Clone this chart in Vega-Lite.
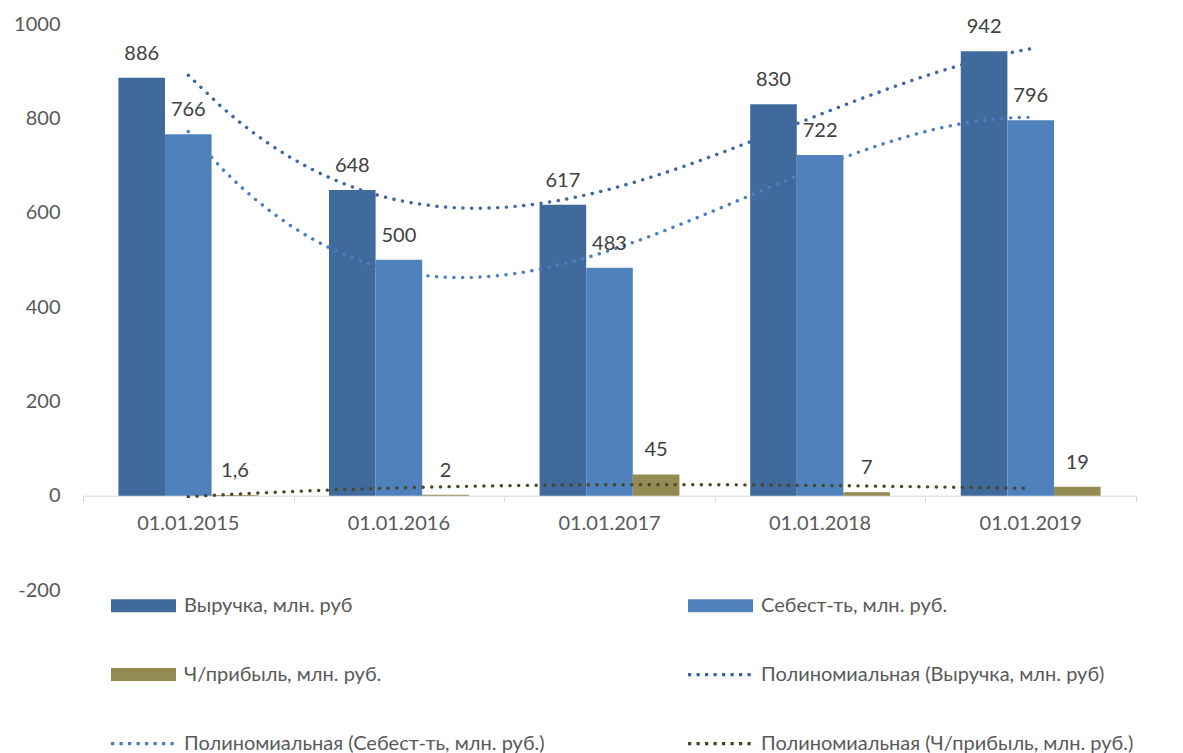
{
  "$schema": "https://vega.github.io/schema/vega-lite/v6.json",
  "width": 1053,
  "height": 566,
  "autosize": {"type": "none"},
  "padding": {"left": 83, "top": 24, "right": 47, "bottom": 163},
  "background": "white",
  "config": {
    "view": {"stroke": null},
    "font": "Lato",
    "locale": {"number": {"decimal": ",", "thousands": " ", "grouping": [3], "currency": ["", ""], "minus": "-"}}
  },
  "data": {
    "values": [
      {"date": "01.01.2015", "idx": 1, "series": "Выручка, млн. руб", "value": 886},
      {"date": "01.01.2015", "idx": 1, "series": "Себест-ть, млн. руб.", "value": 766},
      {"date": "01.01.2015", "idx": 1, "series": "Ч/прибыль, млн. руб.", "value": 1.6},
      {"date": "01.01.2016", "idx": 2, "series": "Выручка, млн. руб", "value": 648},
      {"date": "01.01.2016", "idx": 2, "series": "Себест-ть, млн. руб.", "value": 500},
      {"date": "01.01.2016", "idx": 2, "series": "Ч/прибыль, млн. руб.", "value": 2},
      {"date": "01.01.2017", "idx": 3, "series": "Выручка, млн. руб", "value": 617},
      {"date": "01.01.2017", "idx": 3, "series": "Себест-ть, млн. руб.", "value": 483},
      {"date": "01.01.2017", "idx": 3, "series": "Ч/прибыль, млн. руб.", "value": 45},
      {"date": "01.01.2018", "idx": 4, "series": "Выручка, млн. руб", "value": 830},
      {"date": "01.01.2018", "idx": 4, "series": "Себест-ть, млн. руб.", "value": 722},
      {"date": "01.01.2018", "idx": 4, "series": "Ч/прибыль, млн. руб.", "value": 7},
      {"date": "01.01.2019", "idx": 5, "series": "Выручка, млн. руб", "value": 942},
      {"date": "01.01.2019", "idx": 5, "series": "Себест-ть, млн. руб.", "value": 796},
      {"date": "01.01.2019", "idx": 5, "series": "Ч/прибыль, млн. руб.", "value": 19}
    ]
  },
  "encoding": {
    "y": {
      "field": "value",
      "type": "quantitative",
      "scale": {"domain": [-200, 1000], "nice": false, "zero": false},
      "axis": {
        "values": [-200, 0, 200, 400, 600, 800, 1000],
        "format": "d",
        "domain": false,
        "ticks": false,
        "grid": false,
        "labelPadding": 23,
        "labelFont": "Lato",
        "labelFontSize": 20,
        "labelColor": "#595959",
        "title": null
      }
    }
  },
  "layer": [
    {
      "transform": [
        {"filter": {"field": "series", "equal": "Выручка, млн. руб"}},
        {"regression": "value", "on": "idx", "method": "poly", "order": 3}
      ],
      "mark": {"type": "line", "color": "#3B66A3", "strokeWidth": 3.4, "strokeDash": [0.1, 8.6], "strokeCap": "round"},
      "encoding": {
        "x": {
          "field": "idx",
          "type": "quantitative",
          "scale": {"domain": [0.5, 5.5], "nice": false, "zero": false},
          "axis": {
            "orient": "bottom",
            "values": [0.5, 1.5, 2.5, 3.5, 4.5, 5.5],
            "labels": false,
            "grid": false,
            "domainColor": "#D9D9D9",
            "tickColor": "#D9D9D9",
            "tickSize": 6,
            "offset": -94.33,
            "title": null
          }
        }
      }
    },
    {
      "transform": [{"filter": {"field": "series", "equal": "Выручка, млн. руб"}}],
      "mark": {"type": "bar"},
      "encoding": {
        "x": {
          "field": "date",
          "type": "nominal",
          "scale": {"paddingInner": 0.336, "paddingOuter": 0.168},
          "axis": {
            "orient": "bottom",
            "domain": false,
            "ticks": false,
            "labelAngle": 0,
            "labelPadding": 18,
            "labelFont": "Lato",
            "labelFontSize": 20,
            "labelColor": "#595959",
            "offset": -94.33,
            "title": null
          }
        },
        "xOffset": {
          "field": "series",
          "type": "nominal",
          "scale": {"domain": ["Выручка, млн. руб", "Себест-ть, млн. руб.", "Ч/прибыль, млн. руб."], "paddingInner": 0, "paddingOuter": 0}
        },
        "color": {
          "field": "series",
          "type": "nominal",
          "scale": {
            "domain": ["Выручка, млн. руб", "Себест-ть, млн. руб.", "Ч/прибыль, млн. руб.", "Полиномиальная (Выручка, млн. руб)", "Полиномиальная (Себест-ть, млн. руб.)", "Полиномиальная (Ч/прибыль, млн. руб.)"],
            "range": ["#406A9C", "#4F81BD", "#948A54", "#3B66A3", "#4A7EC1", "#4B4527"]
          },
          "legend": {
            "title": null,
            "orient": "none",
            "direction": "horizontal",
            "legendX": 28,
            "legendY": 549,
            "columns": 2,
            "gridAlign": "each",
            "columnPadding": 143,
            "rowPadding": 26,
            "padding": 0,
            "symbolSize": 4225,
            "symbolStrokeWidth": 0,
            "labelOffset": 8,
            "labelFont": "Lato",
            "labelFontSize": 20,
            "labelColor": "#595959",
            "labelLimit": 700,
            "encode": {
              "symbols": {
                "update": {
                  "shape": [
                    {"test": "indexof(datum.value, 'Полином') === 0", "value": "M-1,-0.05h0.1v0.1h-0.1zM-0.7385,-0.05h0.1v0.1h-0.1zM-0.477,-0.05h0.1v0.1h-0.1zM-0.2155,-0.05h0.1v0.1h-0.1zM0.046,-0.05h0.1v0.1h-0.1zM0.3075,-0.05h0.1v0.1h-0.1zM0.569,-0.05h0.1v0.1h-0.1zM0.8305,-0.05h0.1v0.1h-0.1z"},
                    {"value": "M-1,-0.2H1V0.2H-1Z"}
                  ],
                  "strokeWidth": {"value": 0}
                }
              }
            }
          }
        }
      }
    },
    {
      "transform": [
        {"filter": {"field": "series", "equal": "Себест-ть, млн. руб."}},
        {"regression": "value", "on": "idx", "method": "poly", "order": 3}
      ],
      "mark": {"type": "line", "color": "#4A7EC1", "strokeWidth": 3.4, "strokeDash": [0.1, 8.6], "strokeCap": "round"},
      "encoding": {
        "x": {"field": "idx", "type": "quantitative", "scale": {"domain": [0.5, 5.5], "nice": false, "zero": false}, "axis": null}
      }
    },
    {
      "transform": [{"filter": {"field": "series", "oneOf": ["Себест-ть, млн. руб.", "Ч/прибыль, млн. руб."]}}],
      "mark": {"type": "bar"},
      "encoding": {
        "x": {"field": "date", "type": "nominal", "scale": {"paddingInner": 0.336, "paddingOuter": 0.168}, "axis": null},
        "xOffset": {
          "field": "series",
          "type": "nominal",
          "scale": {"domain": ["Выручка, млн. руб", "Себест-ть, млн. руб.", "Ч/прибыль, млн. руб."], "paddingInner": 0, "paddingOuter": 0}
        },
        "color": {
          "field": "series",
          "type": "nominal",
          "scale": {
            "domain": ["Выручка, млн. руб", "Себест-ть, млн. руб.", "Ч/прибыль, млн. руб.", "Полиномиальная (Выручка, млн. руб)", "Полиномиальная (Себест-ть, млн. руб.)", "Полиномиальная (Ч/прибыль, млн. руб.)"],
            "range": ["#406A9C", "#4F81BD", "#948A54", "#3B66A3", "#4A7EC1", "#4B4527"]
          }
        }
      }
    },
    {
      "transform": [
        {"filter": {"field": "series", "equal": "Ч/прибыль, млн. руб."}},
        {"regression": "value", "on": "idx", "method": "poly", "order": 3}
      ],
      "mark": {"type": "line", "color": "#4B4527", "strokeWidth": 3.4, "strokeDash": [0.1, 8.6], "strokeCap": "round"},
      "encoding": {
        "x": {"field": "idx", "type": "quantitative", "scale": {"domain": [0.5, 5.5], "nice": false, "zero": false}, "axis": null}
      }
    },
    {
      "mark": {"type": "text", "baseline": "alphabetic", "align": "center", "dy": -18, "font": "Lato", "fontSize": 20, "color": "#404040"},
      "encoding": {
        "x": {"field": "date", "type": "nominal", "scale": {"paddingInner": 0.336, "paddingOuter": 0.168}, "axis": null},
        "xOffset": {
          "field": "series",
          "type": "nominal",
          "scale": {"domain": ["Выручка, млн. руб", "Себест-ть, млн. руб.", "Ч/прибыль, млн. руб."], "paddingInner": 0, "paddingOuter": 0}
        },
        "text": {"field": "value", "type": "quantitative", "format": "~g"}
      }
    }
  ],
  "resolve": {"scale": {"x": "independent"}, "axis": {"x": "independent"}}
}
